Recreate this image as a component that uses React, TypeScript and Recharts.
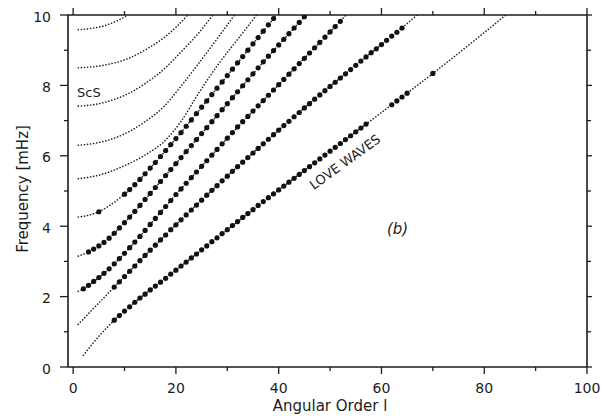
import React from 'react';
import { ComposedChart, Line, Scatter, XAxis, YAxis } from 'recharts';

// Axis ticks
const xTicks = [0, 10, 20, 30, 40, 50, 60, 70, 80, 90, 100];
const xMajor = [0, 20, 40, 60, 80, 100];
const yTicks = [0, 1, 2, 3, 4, 5, 6, 7, 8, 9, 10];
const yMajor = [0, 2, 4, 6, 8, 10];

// Theoretical dispersion branches [angular order l, frequency mHz]
const mode0: number[][] = [[2, 0.33], [3, 0.52], [4, 0.7], [5, 0.87], [6, 1.03], [7, 1.18], [8, 1.33], [12, 1.84], [20, 2.75], [30, 3.9], [40, 5.03], [50, 6.13], [60, 7.23], [70, 8.34], [80, 9.5], [84.2, 10]];
const mode1: number[][] = [[1, 1.21], [3, 1.52], [5, 1.82], [8, 2.27], [14, 3.17], [20, 4.04], [26, 4.88], [32, 5.69], [40, 6.73], [48, 7.73], [56, 8.69], [64, 9.63], [66.9, 10]];
const mode2: number[][] = [[1, 2.15], [2, 2.22], [4, 2.43], [6, 2.66], [8, 2.93], [10, 3.23], [12, 3.55], [15, 4.05], [20, 4.9], [25, 5.7], [30, 6.5], [35, 7.27], [40, 8.02], [45, 8.77], [50, 9.52], [53.1, 10]];
const mode3: number[][] = [[1, 3.15], [3, 3.27], [5, 3.44], [7, 3.66], [9, 3.95], [11, 4.26], [13, 4.59], [16, 5.1], [20, 5.78], [25, 6.63], [30, 7.48], [35, 8.33], [40, 9.15], [45, 9.95], [45.3, 10]];
const mode4: number[][] = [[1, 4.26], [3, 4.31], [5, 4.41], [7, 4.58], [9, 4.79], [11, 5.04], [13, 5.33], [16, 5.81], [20, 6.49], [25, 7.38], [30, 8.28], [35, 9.18], [39.55, 10]];
const mode5: number[][] = [[1, 5.35], [5, 5.45], [10, 5.72], [14, 6.02], [17.8, 6.42], [21, 6.98], [24.3, 7.75], [28, 8.55], [32.4, 9.38], [35.7, 10]];
const mode6: number[][] = [[1, 6.3], [4, 6.35], [8, 6.5], [11.3, 6.72], [14, 6.97], [17.8, 7.42], [21, 7.98], [24.3, 8.6], [28, 9.32], [31.4, 10]];
const mode7: number[][] = [[1, 7.41], [5, 7.48], [11.3, 7.81], [14, 8.05], [17.8, 8.48], [21, 8.95], [24.3, 9.47], [27.2, 10]];
const mode8: number[][] = [[1, 8.5], [5, 8.55], [11.3, 8.8], [14.5, 9.05], [17.8, 9.37], [20, 9.65], [22.3, 10]];
const mode9: number[][] = [[1, 9.58], [4, 9.63], [6.2, 9.7], [8.5, 9.83], [10.7, 10]];

// Observed modes: first angular order and frequencies at consecutive l
const obs0a = { l0: 8, f: [1.33, 1.46, 1.59, 1.71, 1.84, 1.96, 2.07, 2.19, 2.3, 2.41, 2.52, 2.64, 2.75, 2.87, 2.98, 3.1, 3.21, 3.33, 3.44, 3.56, 3.67, 3.79, 3.9, 4.02, 4.13, 4.25, 4.36, 4.47, 4.59, 4.7, 4.81, 4.92, 5.03, 5.14, 5.25, 5.36, 5.47, 5.58, 5.69, 5.8, 5.91, 6.02, 6.13, 6.24, 6.35, 6.46, 6.57, 6.68, 6.79, 6.9] };
const obs0b = { l0: 62, f: [7.45, 7.56, 7.67, 7.78] };
const obs0c = { l0: 70, f: [8.34] };
const obs1 = { l0: 8, f: [2.27, 2.42, 2.57, 2.72, 2.87, 3.02, 3.17, 3.32, 3.46, 3.61, 3.75, 3.9, 4.04, 4.18, 4.32, 4.46, 4.6, 4.74, 4.88, 5.02, 5.15, 5.29, 5.42, 5.56, 5.69, 5.82, 5.95, 6.08, 6.21, 6.34, 6.47, 6.6, 6.73, 6.86, 6.98, 7.11, 7.23, 7.36, 7.48, 7.61, 7.73, 7.85, 7.97, 8.09, 8.21, 8.33, 8.45, 8.57, 8.69, 8.81, 8.93, 9.04, 9.16, 9.28, 9.4, 9.51, 9.63] };
const obs2 = { l0: 2, f: [2.22, 2.32, 2.43, 2.54, 2.66, 2.79, 2.93, 3.08, 3.23, 3.39, 3.55, 3.71, 3.88, 4.05, 4.22, 4.39, 4.56, 4.73, 4.9, 5.06, 5.22, 5.38, 5.54, 5.7, 5.86, 6.02, 6.18, 6.34, 6.5, 6.66, 6.82, 6.97, 7.12, 7.27, 7.42, 7.57, 7.72, 7.87, 8.02, 8.17, 8.32, 8.47, 8.62, 8.77, 8.92, 9.07, 9.22, 9.37, 9.52, 9.67, 9.82] };
const obs3 = { l0: 3, f: [3.27, 3.35, 3.44, 3.54, 3.66, 3.8, 3.95, 4.1, 4.26, 4.42, 4.59, 4.76, 4.93, 5.1, 5.27, 5.44, 5.61, 5.78, 5.95, 6.12, 6.29, 6.46, 6.63, 6.8, 6.97, 7.14, 7.31, 7.48, 7.65, 7.82, 7.99, 8.16, 8.33, 8.5, 8.67, 8.83, 8.99, 9.15, 9.31, 9.47, 9.63, 9.79, 9.95] };
const obs4a = { l0: 5, f: [4.41] };
const obs4b = { l0: 10, f: [4.91, 5.04, 5.18, 5.33, 5.49, 5.65, 5.81, 5.98, 6.15, 6.32, 6.49, 6.66, 6.84, 7.02, 7.2, 7.38, 7.56, 7.74, 7.92, 8.1, 8.28, 8.46, 8.64, 8.82, 9.0, 9.18, 9.36, 9.54, 9.72, 9.9] };

const modes = [mode0, mode1, mode2, mode3, mode4, mode5, mode6, mode7, mode8, mode9];
const observed = [obs0a, obs0b, obs0c, obs1, obs2, obs3, obs4a, obs4b];

const FONT = 'DejaVu Sans';
const INK = '#1c1c1c';

const toRows = (m: number[][]) => m.map(([l, f]) => ({ l, f }));
const obsRows = observed.flatMap((s) => s.f.map((f, i) => ({ l: s.l0 + i, f })));

const BottomTick = (p: any) => {
  const major = xMajor.includes(p.payload.value);
  return (
    <g>
      <line x1={p.x} x2={p.x} y1={p.y} y2={p.y + (major ? 7 : 4)} stroke={INK} strokeWidth={1.3} />
      {major && (
        <text x={p.x} y={p.y + 26} textAnchor="middle" fontSize={14} fontFamily={FONT} fill={INK}>
          {p.payload.value}
        </text>
      )}
    </g>
  );
};
const TopTick = (p: any) => {
  const major = xMajor.includes(p.payload.value);
  return <line x1={p.x} x2={p.x} y1={p.y} y2={p.y - (major ? 7 : 4)} stroke={INK} strokeWidth={1.3} />;
};
const LeftTick = (p: any) => {
  const major = yMajor.includes(p.payload.value);
  return (
    <g>
      <line x1={p.x} x2={p.x - (major ? 8 : 4)} y1={p.y} y2={p.y} stroke={INK} strokeWidth={1.3} />
      {major && (
        <text x={p.x - 17} y={p.y + 6.5} textAnchor="end" fontSize={14} fontFamily={FONT} fill={INK}>
          {p.payload.value}
        </text>
      )}
    </g>
  );
};
const RightTick = (p: any) => {
  const major = yMajor.includes(p.payload.value);
  return <line x1={p.x} x2={p.x + (major ? 5 : 4)} y1={p.y} y2={p.y} stroke={INK} strokeWidth={1.3} />;
};

const BigDot = (p: any) => <circle cx={p.cx} cy={p.cy} r={2.6} fill="#111" />;

export default function App() {
  return (
    <div style={{ position: 'absolute', left: 0, top: 0, background: '#fff' }}>
      <ComposedChart width={601} height={419} margin={{ top: 0, right: 0, bottom: 0, left: 0 }}>
        <XAxis xAxisId="b" dataKey="l" type="number" domain={[-1, 100]} ticks={xTicks} interval={0}
          allowDataOverflow orientation="bottom" height={52} tickSize={0} tickMargin={0}
          tickLine={false} axisLine={{ stroke: INK, strokeWidth: 1.6 }} tick={<BottomTick />} />
        <XAxis xAxisId="t" dataKey="l" type="number" domain={[-1, 100]} ticks={xTicks} interval={0}
          allowDataOverflow orientation="top" height={15} tickSize={0} tickMargin={0}
          tickLine={false} axisLine={{ stroke: INK, strokeWidth: 1.6 }} tick={<TopTick />} />
        <YAxis yAxisId="l" dataKey="f" type="number" domain={[0, 10]} ticks={yTicks} interval={0}
          allowDataOverflow orientation="left" width={68} tickSize={0} tickMargin={0}
          tickLine={false} axisLine={{ stroke: INK, strokeWidth: 1.6 }} tick={<LeftTick />} />
        <YAxis yAxisId="r" dataKey="f" type="number" domain={[0, 10]} ticks={yTicks} interval={0}
          allowDataOverflow orientation="right" width={14} tickSize={0} tickMargin={0}
          tickLine={false} axisLine={{ stroke: INK, strokeWidth: 1.6 }} tick={<RightTick />} />
        {modes.map((m, i) => (
          <Line key={i} xAxisId="b" yAxisId="l" data={toRows(m)} dataKey="f" type="monotone"
            stroke="#222" strokeWidth={1.6} strokeDasharray="0.1 3" strokeLinecap="round"
            dot={false} activeDot={false} isAnimationActive={false} />
        ))}
        <Scatter xAxisId="b" yAxisId="l" data={obsRows} dataKey="f" shape={<BigDot />} isAnimationActive={false} />
        <text x={330} y={411} textAnchor="middle" fontSize={15} fontFamily={FONT} fill={INK}>Angular Order l</text>
        <text transform="translate(27.5,189) rotate(-90)" textAnchor="middle" fontSize={15} fontFamily={FONT} fill={INK}>Frequency [mHz]</text>
        <text x={77} y={97} fontSize={13} fontFamily={FONT} fill={INK}>ScS</text>
        <text transform="translate(345,162) rotate(-36)" y={4.5} textAnchor="middle" fontSize={13} fontFamily={FONT} fill={INK}>LOVE WAVES</text>
        <text x={387} y={234} fontSize={15} fontStyle="italic" fontFamily={FONT} fill={INK}>(b)</text>
      </ComposedChart>
    </div>
  );
}
